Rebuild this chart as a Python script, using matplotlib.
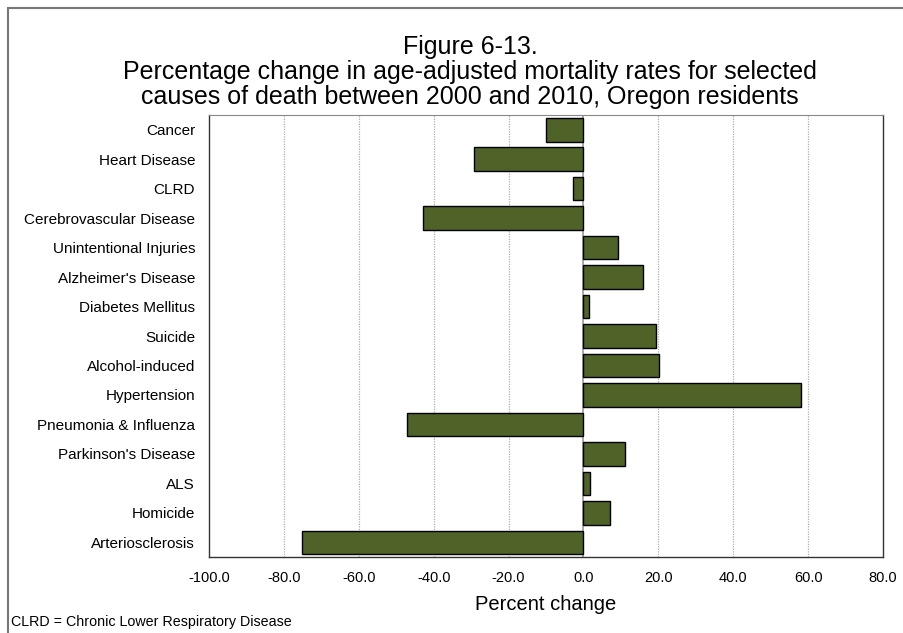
import matplotlib
matplotlib.use('Agg')
import matplotlib.pyplot as plt
from matplotlib.patches import Rectangle

plt.rcParams['font.family'] = ['Liberation Sans', 'DejaVu Sans']

# causes of death, top to bottom as shown
causes = ['Cancer', 'Heart Disease', 'CLRD', 'Cerebrovascular Disease',
          'Unintentional Injuries', "Alzheimer's Disease", 'Diabetes Mellitus',
          'Suicide', 'Alcohol-induced', 'Hypertension', 'Pneumonia & Influenza',
          "Parkinson's Disease", 'ALS', 'Homicide', 'Arteriosclerosis']
pct_change = [-10.1, -29.1, -2.7, -42.9, 9.2, 15.9, 1.5, 19.4, 20.2, 58.2,
              -47.1, 11.0, 1.8, 7.2, -75.2]
xticks = [-100, -80, -60, -40, -20, 0, 20, 40, 60, 80]

fig = plt.figure(figsize=(9.04, 6.33), dpi=100)
ax = fig.add_axes([0.2312, 0.12, 0.7456, 0.6983])

ypos = list(range(len(causes)))
ax.barh(ypos, pct_change, height=0.8, color='#4F6228', edgecolor='black',
        linewidth=1.0, zorder=3)
ax.set_ylim(len(causes) - 0.5, -0.5)
ax.set_yticks(ypos)
ax.set_yticklabels(causes, fontsize=11)
ax.set_xlim(-100, 80)
ax.set_xticks(xticks)
ax.set_xticklabels(['{:.1f}'.format(t) for t in xticks], fontsize=10.5)
ax.tick_params(length=0, pad=10)
ax.tick_params(axis='y', pad=10)

for t in xticks[1:-1]:
    if t == 0:
        ax.axvline(0, color='#999999', linewidth=1.2, zorder=2)
    else:
        ax.axvline(t, color='#b0b0b0', linewidth=0.9, linestyle=(0, (1, 1)), zorder=1)

for side in ['left', 'right', 'bottom']:
    ax.spines[side].set_color('#333333')
    ax.spines[side].set_linewidth(1.0)
ax.spines['top'].set_color('#888888')

ax.set_xlabel('Percent change', fontsize=14.5, labelpad=7)

title_lines = ['Figure 6-13.',
               'Percentage change in age-adjusted mortality rates for selected',
               'causes of death between 2000 and 2010, Oregon residents']
for i, line in enumerate(title_lines):
    fig.text(0.52, 1 - (47 + 25 * i) / 633, line, ha='center', va='center', fontsize=18)

fig.text(0.012, 0.017, 'CLRD = Chronic Lower Respiratory Disease', fontsize=10.3, ha='left', va='center')

# outer frame around the figure
fig.patches.append(Rectangle((8 / 904, -0.1), 1.2, 1.1 - 8 / 633, transform=fig.transFigure,
                             fill=False, edgecolor='#777777', linewidth=1.5))

fig.savefig('out.png', dpi=100)
